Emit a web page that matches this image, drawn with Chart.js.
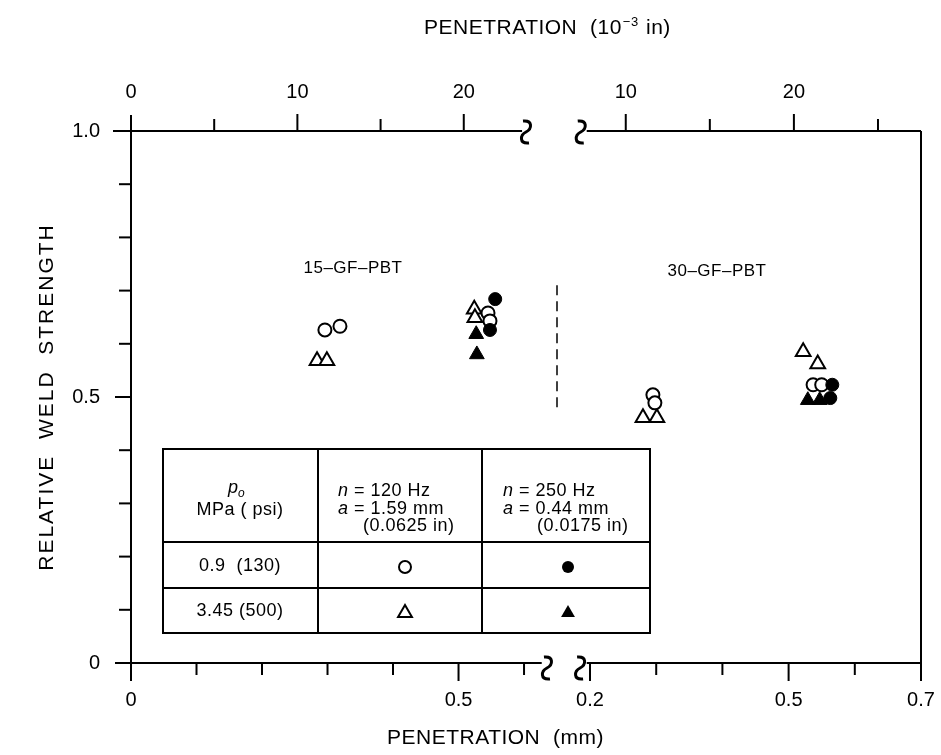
<!DOCTYPE html>
<html><head><meta charset="utf-8">
<script src="https://cdn.jsdelivr.net/npm/chart.js@4/dist/chart.umd.min.js"></script>
<style>html,body{margin:0;padding:0;background:#fff}#wrap{width:941px;height:755px}</style>
</head><body><div id="wrap"><canvas id="c" width="941" height="755"></canvas></div>
<script>
// ---------- DATA (penetration in mm, relative weld strength) ----------
// Left panel: 15-GF-PBT
const L_openCircleX   = [0.296, 0.319, 0.545, 0.548];
const L_openCircleY   = [0.626, 0.633, 0.658, 0.643];
const L_filledCircleX = [0.556, 0.548];
const L_filledCircleY = [0.684, 0.626];
const L_openTriX      = [0.284, 0.299, 0.524, 0.525];
const L_openTriY      = [0.568, 0.568, 0.665, 0.649];
const L_filledTriX    = [0.527, 0.528];
const L_filledTriY    = [0.618, 0.580];
// Right panel: 30-GF-PBT
const R_openCircleX   = [0.295, 0.298, 0.537, 0.550];
const R_openCircleY   = [0.504, 0.489, 0.523, 0.523];
const R_filledCircleX = [0.566, 0.563];
const R_filledCircleY = [0.523, 0.498];
const R_openTriX      = [0.280, 0.301, 0.522, 0.544];
const R_openTriY      = [0.461, 0.461, 0.585, 0.562];
const R_filledTriX    = [0.529, 0.547];
const R_filledTriY    = [0.494, 0.494];

// ---------- TICKS ----------
const yTicks = [0,0.1,0.2,0.3,0.4,0.5,0.6,0.7,0.8,0.9,1.0];
const yLabels = {0:'0', 0.5:'0.5', 1:'1.0'};
const bottomTicksLeft  = [0,0.1,0.2,0.3,0.4,0.5,0.6];
const bottomLabelsLeft = {0:'0', 0.5:'0.5'};
const bottomTicksRight = [0.2,0.3,0.4,0.5,0.6,0.7];
const bottomLabelsRight= {0.2:'0.2', 0.5:'0.5', 0.7:'0.7'};
const topTicksLeft  = [5,10,15,20];      // 10^-3 in
const topLabelsLeft = [0,10,20];
const topTicksRight = [10,15,20,25];
const topLabelsRight= [10,20];
const MM_PER_MIL = 0.0254;

const panelNames = ['15–GF–PBT','30–GF–PBT'];
const legendRows = ['0.9  (130)','3.45 (500)'];

const FONT = '"Liberation Sans", Arial, Helvetica, sans-serif';

function pts(xs, ys){ return xs.map((x,i)=>({x:x, y:ys[i]})); }
const sty = {
  fc: {pointStyle:'circle', pointRadius:6.5, pointBackgroundColor:'#000', pointBorderColor:'#000', pointBorderWidth:1},
  oc: {pointStyle:'circle', pointRadius:6.5, pointBackgroundColor:'#fff', pointBorderColor:'#000', pointBorderWidth:2},
  ft: {pointStyle:'triangle', pointRadius:8.5, pointBackgroundColor:'#000', pointBorderColor:'#000', pointBorderWidth:1},
  ot: {pointStyle:'triangle', pointRadius:8.5, pointBackgroundColor:'#fff', pointBorderColor:'#000', pointBorderWidth:2}
};
function ds(xs, ys, axis, s){ return Object.assign({data: pts(xs, ys), xAxisID: axis, yAxisID:'y', showLine:false}, s); }

// first dataset is drawn on top
const datasets = [
  ds(L_filledCircleX, L_filledCircleY, 'x', sty.fc),
  ds(R_filledCircleX, R_filledCircleY, 'x2', sty.fc),
  ds(L_openCircleX, L_openCircleY, 'x', sty.oc),
  ds(R_openCircleX, R_openCircleY, 'x2', sty.oc),
  ds(L_filledTriX, L_filledTriY, 'x', sty.ft),
  ds(R_filledTriX, R_filledTriY, 'x2', sty.ft),
  ds(L_openTriX, L_openTriY, 'x', sty.ot),
  ds(R_openTriX, R_openTriY, 'x2', sty.ot)
];

function squiggle(ctx, cx, cy){
  ctx.save();
  ctx.lineWidth = 3;
  ctx.beginPath();
  ctx.moveTo(cx-3, cy-11);
  ctx.bezierCurveTo(cx+7, cy-12, cx+6, cy-3, cx, cy);
  ctx.bezierCurveTo(cx-6, cy+3, cx-7, cy+12, cx+3, cy+11);
  ctx.stroke();
  ctx.restore();
}

const decor = {
  id: 'decor',
  afterDraw(chart){
    const ctx = chart.ctx;
    const xs = chart.scales.x, xr = chart.scales.x2, ys = chart.scales.y;
    const X = v=>xs.getPixelForValue(v), XR = v=>xr.getPixelForValue(v), Y = v=>ys.getPixelForValue(v);
    const top = Y(1), bot = Y(0), x0 = X(0), xEnd = XR(0.7);
    ctx.save();
    ctx.strokeStyle = '#000'; ctx.fillStyle = '#000'; ctx.lineWidth = 2; ctx.lineCap = 'butt';
    const line = (a,b,c,d)=>{ ctx.beginPath(); ctx.moveTo(a,b); ctx.lineTo(c,d); ctx.stroke(); };
    const spacing = s=>{ if ('letterSpacing' in ctx) ctx.letterSpacing = s; };
    // y axis
    line(x0, top-16, x0, bot+17);
    yTicks.forEach(v=>{ const major = (v in yLabels); line(x0, Y(v), x0-(major?16:12), Y(v)); });
    // top axis (left panel)
    line(x0-18, top, X(0.597), top);
    // bottom axis (left panel)
    line(x0-16, bot, X(0.627), bot);
    // right panel axes
    line(XR(0.195), top, xEnd, top);
    line(XR(0.195), bot, xEnd, bot);
    line(xEnd, top, xEnd, bot+17);
    // squiggles
    squiggle(ctx, X(0.603), top+1);
    squiggle(ctx, XR(0.186), top+1);
    squiggle(ctx, X(0.635), bot+5);
    squiggle(ctx, XR(0.185), bot+5);
    // top ticks
    topTicksLeft.forEach(v=>{ const m = v%10===0; line(X(v*MM_PER_MIL), top, X(v*MM_PER_MIL), top-(m?17:12)); });
    topTicksRight.forEach(v=>{ const m = v%10===0; line(XR(v*MM_PER_MIL), top, XR(v*MM_PER_MIL), top-(m?17:12)); });
    // bottom ticks
    bottomTicksLeft.forEach(v=>{ const m = (v in bottomLabelsLeft); line(X(v), bot, X(v), bot+(m?18:12)); });
    bottomTicksRight.forEach(v=>{ const m = (v in bottomLabelsRight); line(XR(v), bot, XR(v), bot+(m?18:12)); });

    // labels
    ctx.font = '20px ' + FONT;
    ctx.textBaseline = 'middle';
    ctx.textAlign = 'right';
    Object.keys(yLabels).forEach(k=>ctx.fillText(yLabels[k], x0-31, Y(+k)));
    ctx.textAlign = 'center';
    topLabelsLeft.forEach(v=>ctx.fillText(String(v), X(v*MM_PER_MIL), top-39));
    topLabelsRight.forEach(v=>ctx.fillText(String(v), XR(v*MM_PER_MIL), top-39));
    Object.keys(bottomLabelsLeft).forEach(k=>ctx.fillText(bottomLabelsLeft[k], X(+k), bot+37));
    Object.keys(bottomLabelsRight).forEach(k=>ctx.fillText(bottomLabelsRight[k], XR(+k), bot+37));

    // axis titles
    ctx.textAlign = 'left';
    ctx.font = '21px ' + FONT; spacing('0.5px');
    let tx = 424, ty = 28;
    const t1 = 'PENETRATION  (10';
    ctx.fillText(t1, tx, ty); tx += ctx.measureText(t1).width;
    ctx.font = '13px ' + FONT; ctx.fillText('−3', tx+1, ty-6); tx += ctx.measureText('−3').width + 2;
    ctx.font = '21px ' + FONT; ctx.fillText(' in)', tx, ty);
    ctx.fillText('PENETRATION  (mm)', 387, 738);
    ctx.save();
    ctx.translate(47, (top+bot)/2); ctx.rotate(-Math.PI/2);
    ctx.textAlign = 'center'; spacing('2px');
    ctx.fillText('RELATIVE  WELD  STRENGTH', 0, 0);
    ctx.restore();
    spacing('0px');

    // panel names
    ctx.font = '17px ' + FONT; ctx.textAlign = 'center'; spacing('0.5px');
    ctx.fillText(panelNames[0], 353, 268);
    ctx.fillText(panelNames[1], 717, 271);

    // dashed divider
    ctx.save(); ctx.setLineDash([10,6]); ctx.lineWidth = 1.5;
    line(557, Y(0.71), 557, Y(0.48));
    ctx.restore();

    // table
    const tl = 163, tr = 650, c1 = 318, c2 = 482, r0 = 449, r1 = 542, r2 = 588, r3 = 633;
    ctx.fillStyle = '#fff'; ctx.fillRect(tl, r0, tr-tl, r3-r0); ctx.fillStyle = '#000';
    ctx.lineWidth = 2;
    ctx.strokeRect(tl, r0, tr-tl, r3-r0);
    line(c1, r0, c1, r3); line(c2, r0, c2, r3);
    line(tl, r1, tr, r1); line(tl, r2, tr, r2);
    // header
    ctx.textAlign = 'left';
    ctx.font = 'italic 18px ' + FONT; ctx.fillText('p', 228, 488);
    ctx.font = 'italic 12px ' + FONT; ctx.fillText('o', 238, 494);
    ctx.font = '18px ' + FONT; ctx.textAlign = 'center';
    ctx.fillText('MPa ( psi)', 240, 510);
    const hdr = (x, it, rest, y)=>{
      ctx.textAlign = 'left';
      ctx.font = 'italic 18px ' + FONT; ctx.fillText(it, x, y);
      const w = ctx.measureText(it).width;
      ctx.font = '18px ' + FONT; ctx.fillText(rest, x+w, y);
    };
    hdr(338, 'n', ' = 120 Hz', 491);
    hdr(338, 'a', ' = 1.59 mm', 509);
    ctx.fillText('(0.0625 in)', 363, 526);
    hdr(503, 'n', ' = 250 Hz', 491);
    hdr(503, 'a', ' = 0.44 mm', 509);
    ctx.fillText('(0.0175 in)', 537, 526);
    ctx.textAlign = 'center';
    ctx.fillText(legendRows[0], 240, 566);
    ctx.fillText(legendRows[1], 240, 611);
    spacing('0px');
    // legend markers
    const circ = (x,y,fill)=>{ ctx.beginPath(); ctx.arc(x,y,6,0,Math.PI*2); if(fill){ctx.fill();} else {ctx.lineWidth=2; ctx.stroke();} };
    const tri = (x,y,fill)=>{ const r=8; ctx.beginPath();
      ctx.moveTo(x, y-r); ctx.lineTo(x+r*Math.sin(2*Math.PI/3), y-r*Math.cos(2*Math.PI/3));
      ctx.lineTo(x+r*Math.sin(4*Math.PI/3), y-r*Math.cos(4*Math.PI/3)); ctx.closePath();
      if(fill){ctx.fill();} else {ctx.lineWidth=2; ctx.stroke();} };
    circ(405, 567, false); circ(568, 567, true);
    tri(405, 613, false); tri(568, 613, true);
    ctx.restore();
  }
};

new Chart(document.getElementById('c'), {
  type: 'scatter',
  data: { datasets: datasets },
  options: {
    responsive: false, animation: false, events: [], devicePixelRatio: 1,
    layout: { padding: { left: 131, top: 131, right: 20, bottom: 92 } },
    plugins: { legend: {display:false}, tooltip: {enabled:false}, title:{display:false} },
    scales: {
      x:  { type:'linear', display:false, min:0, max:1.206 },
      x2: { type:'linear', display:false, min:-0.4934, max:0.7 },
      y:  { type:'linear', display:false, min:0, max:1 }
    }
  },
  plugins: [decor]
});
</script>
</body></html>
